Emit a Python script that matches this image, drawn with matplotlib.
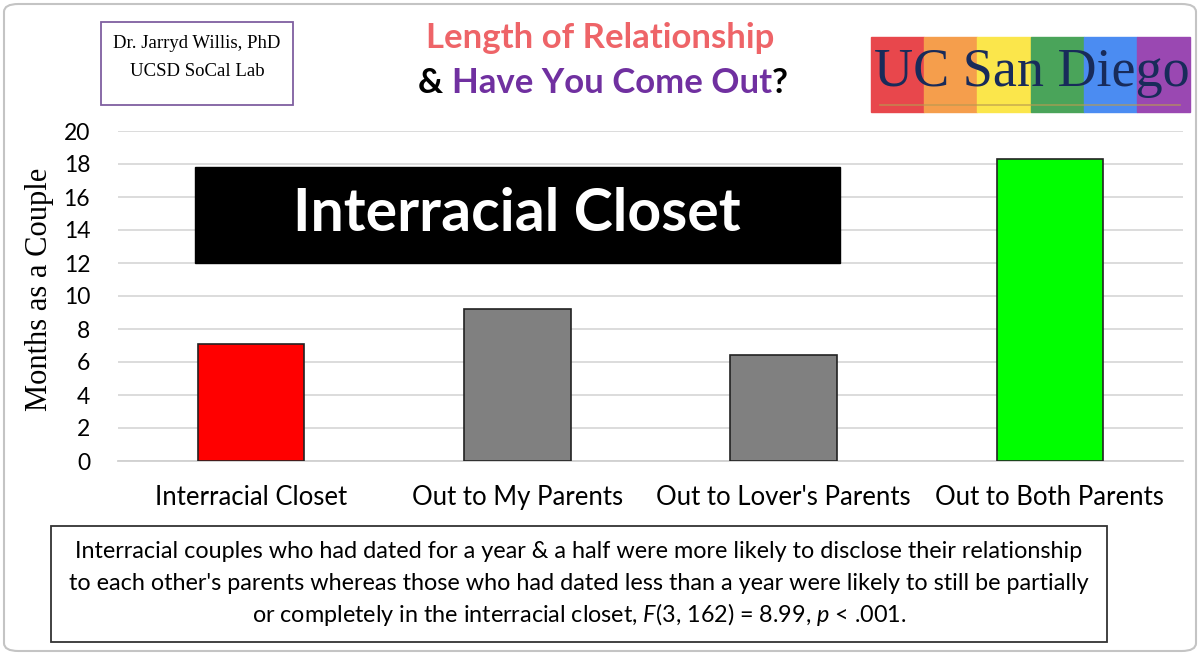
import matplotlib
matplotlib.use("Agg")
from matplotlib import pyplot as plt
from matplotlib.patches import Rectangle, FancyBboxPatch

categories = ["Interracial Closet", "Out to My Parents", "Out to Lover's Parents", "Out to Both Parents"]
months = [7.1, 9.2, 6.45, 18.3]
bar_colors = ["#FF0000", "#808080", "#808080", "#00FF00"]
y_ticks = [0, 2, 4, 6, 8, 10, 12, 14, 16, 18, 20]

note_lines = [
    "Interracial couples who had dated for a year & a half were more likely to disclose their relationship",
    "to each other's parents whereas those who had dated less than a year were likely to still be partially",
    r"or completely in the interracial closet, $\it{F}$(3, 162) = 8.99, $\it{p}$ < .001.",
]
logo_colors = ["#E8474C", "#F59E4C", "#FBE64B", "#4AA45A", "#4B8CF2", "#9A48B2"]

W, H = 1200, 655
sans = "Lato"
serif = "Liberation Serif"
plt.rcParams["mathtext.fontset"] = "custom"
plt.rcParams["mathtext.it"] = "Lato:italic"
plt.rcParams["mathtext.rm"] = "Lato"

fig = plt.figure(figsize=(W / 100, H / 100), dpi=100)
fig.patch.set_facecolor("white")


def fx(px):
    return px / W


def fy(py):
    return 1 - py / H


# outer rounded frame
fig.patches.append(FancyBboxPatch((fx(4), fy(651)), fx(1192), 647 / H,
                                  boxstyle="round,pad=0,rounding_size=0.012",
                                  transform=fig.transFigure, fill=False,
                                  edgecolor="#C4C4C4", linewidth=1.5))

ax = fig.add_axes([fx(118), fy(461), fx(1065), 330 / H])
x = list(range(len(categories)))
ax.bar(x, months, width=0.40, color=bar_colors, edgecolor="#222222", linewidth=1.2, zorder=3)
ax.set_xlim(-0.5, 3.5)
ax.set_ylim(0, 20)
ax.set_yticks(y_ticks)
ax.set_yticklabels([str(t) for t in y_ticks], fontname=sans, fontsize=16.5)
ax.set_xticks(x)
ax.set_xticklabels(categories, fontname=sans, fontsize=18.5)
ax.tick_params(length=0)
ax.tick_params(axis="x", pad=17)
ax.tick_params(axis="y", pad=20)
ax.grid(axis="y", color="#D9D9D9", linewidth=1.3, zorder=0)
for s in ["top", "right", "left"]:
    ax.spines[s].set_visible(False)
ax.spines["bottom"].set_color("#D0D0D0")
ax.spines["bottom"].set_linewidth(1.3)
ax.set_ylabel("Months as a Couple", fontname=serif, fontsize=22)
ax.yaxis.set_label_coords(-0.06, 0.52)

# black label box
fig.patches.append(Rectangle((fx(195), fy(263)), fx(645), 96 / H,
                             transform=fig.transFigure, color="black", zorder=5))
fig.text(fx(517), fy(214), "Interracial Closet", fontname=sans, fontweight="bold",
         fontsize=42.5, color="white", ha="center", va="center", zorder=6)

# author box
fig.patches.append(Rectangle((fx(101), fy(105)), fx(192), 83 / H,
                             transform=fig.transFigure, fill=False,
                             edgecolor="#7F5FA0", linewidth=1.3))
fig.text(fx(197), fy(44), "Dr. Jarryd Willis, PhD", fontname=serif, fontsize=13.5,
         ha="center", va="center")
fig.text(fx(197), fy(71), "UCSD SoCal Lab", fontname=serif, fontsize=13.5,
         ha="center", va="center")

# title
fig.text(fx(600), fy(38), "Length of Relationship", fontname=sans, fontweight="bold",
         fontsize=25, color="#EE6468", ha="center", va="center")
t1 = fig.text(fx(418), fy(83), "& ", fontname=sans, fontweight="bold", fontsize=25,
              color="black", ha="left", va="center")
fig.canvas.draw()
r = fig.canvas.get_renderer()
bb = t1.get_window_extent(r)
t2 = fig.text(bb.x1 / W, fy(83), "Have You Come Out", fontname=sans, fontweight="bold",
              fontsize=25, color="#7030A0", ha="left", va="center")
bb2 = t2.get_window_extent(r)
fig.text(bb2.x1 / W, fy(83), "?", fontname=sans, fontweight="bold", fontsize=25,
         color="black", ha="left", va="center")

# logo
lx0, lx1, ly0, ly1 = 871, 1190, 37, 112
sw = (lx1 - lx0) / len(logo_colors)
for i, c in enumerate(logo_colors):
    fig.patches.append(Rectangle((fx(lx0 + i * sw), fy(ly1)), fx(sw), (ly1 - ly0) / H,
                                 transform=fig.transFigure, color=c, zorder=1))
fig.lines.append(plt.Line2D([fx(880), fx(1180)], [fy(105), fy(105)], transform=fig.transFigure,
                            color="#B89A50", linewidth=1.2, alpha=0.7, zorder=2))
fig.text(fx(1032), fy(86), "UC San Diego", fontname=serif, fontsize=39,
         color="#182B5A", ha="center", va="baseline", zorder=3)

# note box
fig.patches.append(Rectangle((fx(51), fy(642)), fx(1056), 116 / H,
                             transform=fig.transFigure, fill=False,
                             edgecolor="#333333", linewidth=1.3))
for i, line in enumerate(note_lines):
    fig.text(fx(579), fy(551 + i * 32), line, fontname=sans, fontsize=16.8,
             ha="center", va="center")

fig.savefig("out.png", dpi=100)
